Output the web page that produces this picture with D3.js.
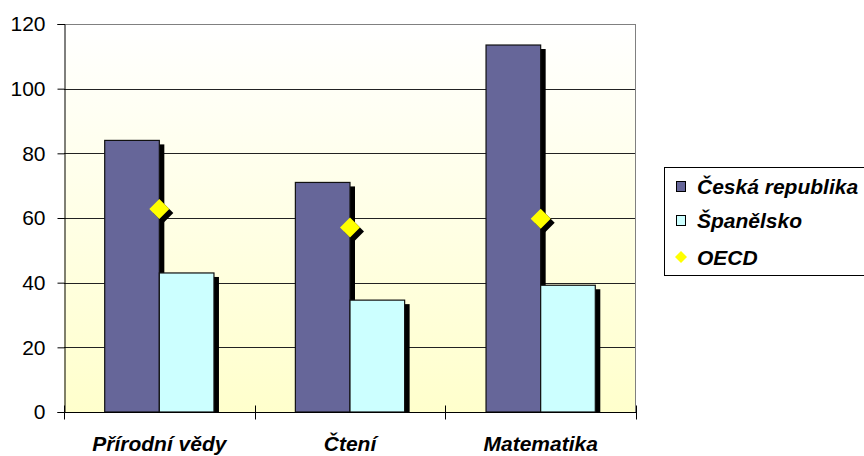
<!DOCTYPE html>
<html>
<head>
<meta charset="utf-8">
<script src="https://cdn.jsdelivr.net/npm/d3@7"></script>
<style>
  body { margin: 0; background: #fff; }
  svg { display: block; font-family: Arial, "Liberation Sans", sans-serif; }
</style>
</head>
<body>
<div id="chart"></div>
<script>
// chart data
const categories = ["Přírodní vědy", "Čtení", "Matematika"];
const czValues = [84, 71, 113.5];
const esValues = [43, 34.6, 39.2];
const oecdValues = [62.8, 57.1, 59.8];
const yTicks = [0, 20, 40, 60, 80, 100, 120];
const seriesNames = ["Česká republika", "Španělsko", "OECD"];

const width = 864, height = 456;
const plot = { left: 64, right: 636, top: 24, bottom: 412 };

const svg = d3.select("#chart").append("svg")
    .attr("width", width)
    .attr("height", height);

const defs = svg.append("defs");
const grad = defs.append("linearGradient")
    .attr("id", "bg")
    .attr("x1", 0).attr("y1", 0).attr("x2", 0).attr("y2", 1);
grad.append("stop").attr("offset", "0%").attr("stop-color", "#FFFFFF");
grad.append("stop").attr("offset", "100%").attr("stop-color", "#FFFFCC");

const x = d3.scaleBand()
    .domain(categories)
    .range([plot.left, plot.right]);

const y = d3.scaleLinear()
    .domain([0, 120])
    .range([plot.bottom, plot.top]);

// plot background
svg.append("rect")
    .attr("x", plot.left).attr("y", plot.top)
    .attr("width", plot.right - plot.left)
    .attr("height", plot.bottom - plot.top)
    .attr("fill", "url(#bg)");

// gridlines
svg.append("g")
    .selectAll("line")
    .data(yTicks.filter(d => d > 0))
    .join("line")
    .attr("x1", plot.left).attr("x2", plot.right)
    .attr("y1", d => Math.round(y(d)) + 0.5)
    .attr("y2", d => Math.round(y(d)) + 0.5)
    .attr("stroke", d => d === 120 ? "#808080" : "#222")
    .attr("stroke-width", 1);

// right border
svg.append("line")
    .attr("x1", plot.right - 0.5).attr("x2", plot.right - 0.5)
    .attr("y1", plot.top).attr("y2", plot.bottom)
    .attr("stroke", "#808080");

// bar geometry: excel-like gap width
const bw = x.bandwidth();
const barW = bw / 3.49;
const gap = bw - 2 * barW;

const groups = svg.append("g")
    .selectAll("g")
    .data(categories)
    .join("g")
    .attr("transform", d => `translate(${x(d) + gap / 2},0)`);

function drawBar(g, xOff, getVal, fill) {
    // shadow
    g.append("rect")
        .attr("x", (d, i) => xOff + 5)
        .attr("y", (d, i) => y(getVal(i)) + 4)
        .attr("width", barW)
        .attr("height", (d, i) => plot.bottom - y(getVal(i)) - 4)
        .attr("fill", "#000");
    g.append("rect")
        .attr("x", xOff)
        .attr("y", (d, i) => y(getVal(i)))
        .attr("width", barW)
        .attr("height", (d, i) => plot.bottom - y(getVal(i)))
        .attr("fill", fill)
        .attr("stroke", "#111")
        .attr("stroke-width", 1.2);
}

groups.each(function(d, i) {
    const g = d3.select(this);
    drawBar(g, 0, () => czValues[i], "#666699");
    drawBar(g, barW, () => esValues[i], "#CCFFFF");
});

// OECD diamonds
const diamond = d3.symbol().type(d3.symbolSquare).size(200);
const oecd = svg.append("g")
    .selectAll("g")
    .data(categories)
    .join("g")
    .attr("transform", (d, i) => `translate(${x(d) + bw / 2},${y(oecdValues[i])})`);
oecd.append("path")
    .attr("d", diamond)
    .attr("transform", "translate(4,4) rotate(45)")
    .attr("fill", "#000");
oecd.append("path")
    .attr("d", diamond)
    .attr("transform", "rotate(45)")
    .attr("fill", "#FFFF00");

// y axis
const yAxis = svg.append("g")
    .attr("transform", `translate(${plot.left + 0.5},0)`)
    .call(d3.axisLeft(y).tickValues(yTicks).tickSize(7).tickPadding(12));
yAxis.select(".domain").attr("stroke", "#000");
yAxis.selectAll(".tick line").attr("stroke", "#000");
yAxis.selectAll(".tick text")
    .attr("font-size", 21)
    .attr("fill", "#000")
    .attr("font-family", "Arial, 'Liberation Sans', sans-serif");

// x axis
const xAxisG = svg.append("g")
    .attr("transform", `translate(0,${plot.bottom + 0.5})`);
xAxisG.append("line")
    .attr("x1", plot.left).attr("x2", plot.right)
    .attr("stroke", "#000");
xAxisG.selectAll(".xtick")
    .data(categories.map(c => x(c)).concat([plot.right]))
    .join("line")
    .attr("x1", d => Math.round(d) + 0.5).attr("x2", d => Math.round(d) + 0.5)
    .attr("y1", -7).attr("y2", 7)
    .attr("stroke", "#000");
xAxisG.selectAll("text")
    .data(categories)
    .join("text")
    .attr("x", d => x(d) + bw / 2)
    .attr("y", 38.5)
    .attr("text-anchor", "middle")
    .attr("font-size", 21)
    .attr("font-weight", "bold")
    .attr("font-style", "italic")
    .text(d => d);

// legend
const legend = svg.append("g");
legend.append("rect")
    .attr("x", 664.5).attr("y", 167.5)
    .attr("width", 210).attr("height", 108)
    .attr("fill", "#fff")
    .attr("stroke", "#000");
const rowY = [186, 220, 257];
const legendFill = ["#666699", "#CCFFFF", "#FFFF00"];
const items = legend.selectAll("g")
    .data(seriesNames)
    .join("g")
    .attr("transform", (d, i) => `translate(0,${rowY[i]})`);
items.each(function(d, i) {
    const g = d3.select(this);
    if (i < 2) {
        g.append("rect")
            .attr("x", 676.5).attr("y", -4.5)
            .attr("width", 9).attr("height", 10)
            .attr("fill", legendFill[i])
            .attr("stroke", "#000");
    } else {
        g.append("path")
            .attr("d", d3.symbol().type(d3.symbolSquare).size(72))
            .attr("transform", "translate(681,0) rotate(45)")
            .attr("fill", legendFill[i]);
    }
});
items.append("text")
    .attr("x", 697)
    .attr("y", 7.5)
    .attr("font-size", 21)
    .attr("font-weight", "bold")
    .attr("font-style", "italic")
    .text(d => d);
</script>
</body>
</html>
